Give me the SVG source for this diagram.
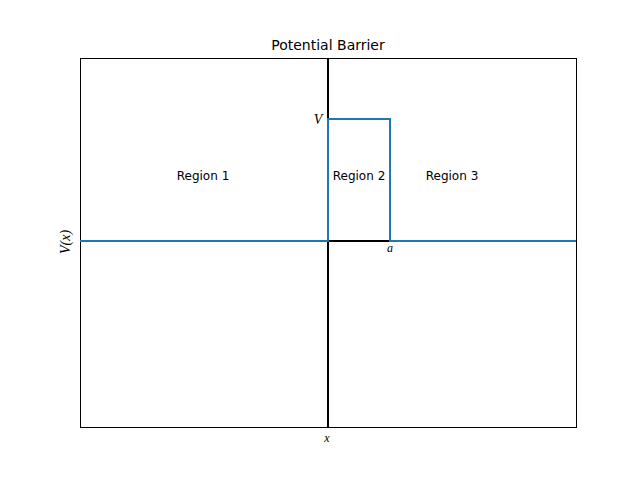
<svg xmlns="http://www.w3.org/2000/svg" width="640" height="480" viewBox="0 0 640 480">
<style>
.lbl{font-family:"DejaVu Sans","Liberation Sans",sans-serif;font-size:12px;fill:#000;text-anchor:middle}
.math{font-family:"Liberation Serif","DejaVu Serif",serif;font-style:italic;fill:#000;text-anchor:middle}
</style>
<rect width="640" height="480" fill="#fff"/>
<g id="axes">
<rect x="80.5" y="58.5" width="496" height="369" fill="none" stroke="#000" stroke-width="1"/>
<line x1="328" y1="58" x2="328" y2="427" stroke="#000" stroke-width="2"/>
<line x1="328" y1="241" x2="390" y2="241" stroke="#000" stroke-width="2"/>
</g>
<g id="connectors">
<polyline points="80,241 328,241 328,119 390,119 390,241 576,241" fill="none" stroke="#1f77b4" stroke-width="2"/>
</g>
<g id="title"><text x="328" y="50" class="lbl" style="font-size:14px">Potential Barrier</text></g>
<g id="region1"><text x="203" y="180" class="lbl">Region 1</text></g>
<g id="region2"><text x="359" y="180" class="lbl">Region 2</text></g>
<g id="region3"><text x="452" y="180" class="lbl">Region 3</text></g>
<g id="labelV"><text x="318" y="124" class="math" font-size="14">V</text></g>
<g id="labela"><text x="390" y="252" class="math" font-size="12">a</text></g>
<g id="xlabel"><text x="327" y="442" class="math" font-size="12">x</text></g>
<g id="ylabel"><text transform="translate(70,242) rotate(-90)" class="math" font-size="14">V(x)</text></g>
</svg>
